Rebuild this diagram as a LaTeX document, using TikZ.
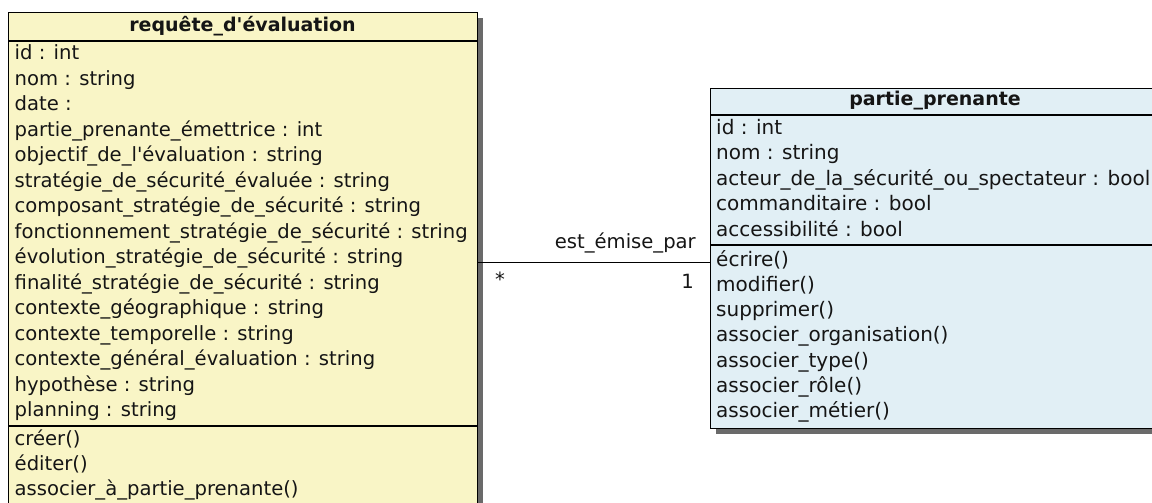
\documentclass[tikz,border=0pt]{standalone}
\usepackage{fontspec}
\setmainfont{DejaVu Sans}[Ligatures=TeXOff]
\usetikzlibrary{shadows}
\definecolor{yel}{HTML}{F9F5C6}
\definecolor{blu}{HTML}{E1EFF5}
\definecolor{shd}{HTML}{6A6A6A}
\definecolor{ink}{HTML}{151515}
\begin{document}
\begin{tikzpicture}[x=1pt,y=-1pt,
  classbox/.style={draw=black, line width=1.1pt, anchor=north west, inner sep=0pt,
    drop shadow={shadow xshift=5pt, shadow yshift=-5pt, fill=shd, opacity=1}},
  txt/.style={anchor=base west, inner sep=0pt, text=ink, font=\fontsize{19.6}{23}\selectfont},
  txtr/.style={txt, font=\fontsize{20}{23}\selectfont},
  ttl/.style={anchor=center, inner sep=0pt, text=ink, font=\bfseries\fontsize{19}{23}\selectfont},
  sepline/.style={line width=1.1pt},
  assoc/.style={line width=1pt}]
\useasboundingbox[fill=white] (0,0) rectangle (1152,503);

% boxes
\node[classbox, fill=yel, minimum width=469pt, minimum height=508pt] (req) at (8,12) {};
\node[classbox, fill=blu, minimum width=452pt, minimum height=340pt] (pp) at (710,88) {};

% association
\coordinate (ay) at (0,262);
\draw[assoc] (req.east |- ay) -- (pp.west |- ay);
\node[txt, anchor=base east] (lab) at (696,248) {est\_émise\_par};
\node[txt, anchor=center] (m1) at (500,279) {*};
\node[txt, anchor=base east] (m2) at (694,288) {1};

% left class
\node[ttl] (reqt) at (242.5,26) {requête\_d'évaluation};
\draw[sepline] (req.west |- 0,41) -- (req.east |- 0,41);
\draw[sepline] (req.west |- 0,426) -- (req.east |- 0,426);
\foreach \t [count=\i from 0] in {id : int, nom : string, date :, partie\_prenante\_émettrice : int,
  objectif\_de\_l'évaluation : string, stratégie\_de\_sécurité\_évaluée : string,
  composant\_stratégie\_de\_sécurité : string, fonctionnement\_stratégie\_de\_sécurité : string,
  évolution\_stratégie\_de\_sécurité : string, finalité\_stratégie\_de\_sécurité : string,
  contexte\_géographique : string, contexte\_temporelle : string,
  contexte\_général\_évaluation : string, hypothèse : string, planning : string}
  \node[txt] (ra\i) at (14.5,59.5+25.5*\i) {\t};
\foreach \t [count=\i from 0] in {créer(), éditer(), associer\_à\_partie\_prenante()}
  \node[txt] (rm\i) at (14.5,445+25*\i) {\t};

% right class
\node[ttl] (ppt) at (935,101) {partie\_prenante};
\draw[sepline] (pp.west |- 0,115) -- (pp.east |- 0,115);
\draw[sepline] (pp.west |- 0,245) -- (pp.east |- 0,245);
\foreach \t [count=\i from 0] in {id : int, nom : string, acteur\_de\_la\_sécurité\_ou\_spectateur : bool,
  commanditaire : bool, accessibilité : bool}
  \node[txtr] (pa\i) at (716,134+25.5*\i) {\t};
\foreach \t [count=\i from 0] in {écrire(), modifier(), supprimer(), associer\_organisation(),
  associer\_type(), associer\_rôle(), associer\_métier()}
  \node[txtr] (pm\i) at (716,266+25.3*\i) {\t};
\end{tikzpicture}
\end{document}
